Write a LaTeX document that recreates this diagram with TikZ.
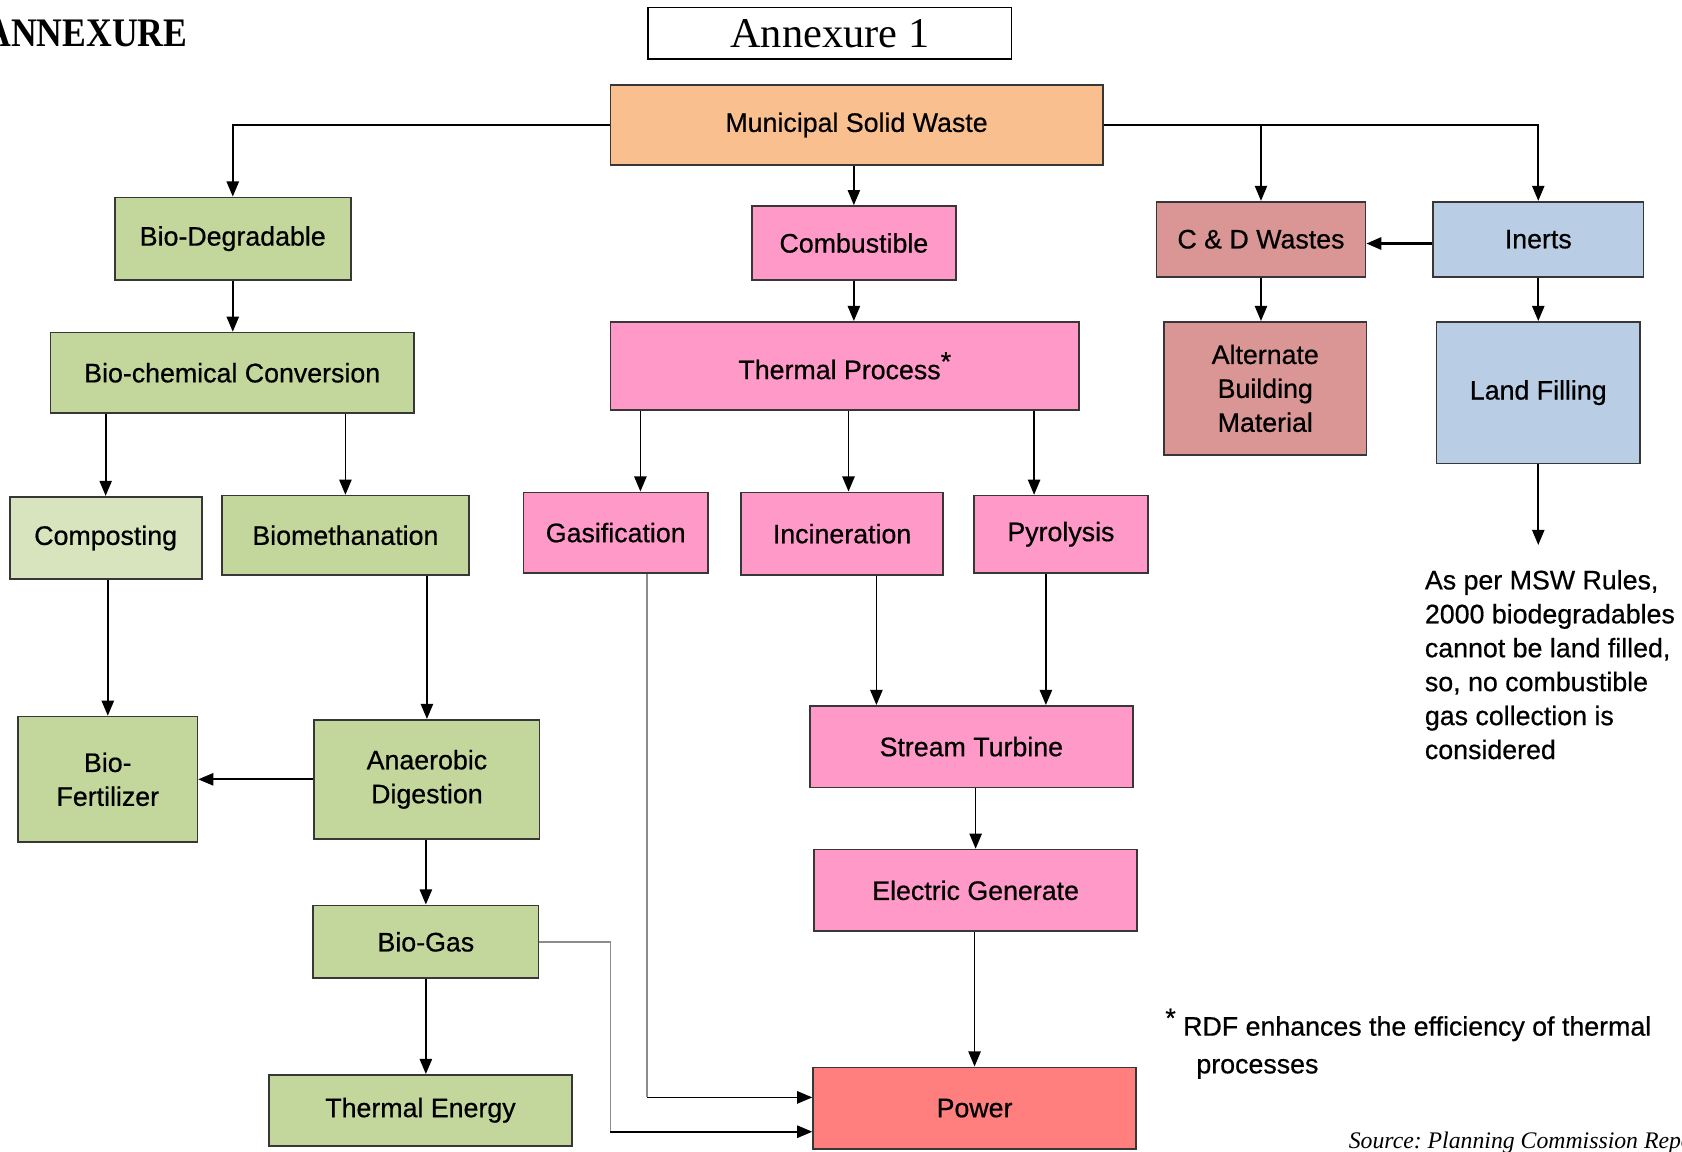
\documentclass[tikz,border=0pt]{standalone}
\usepackage{fontspec}
\setmainfont{Liberation Serif}
\setsansfont{Liberation Sans}
\newfontfamily\sansboite[FakeBold=0.6]{Liberation Sans}
\usepackage{tikz}
\usetikzlibrary{arrows.meta}
\usepackage{xcolor}
\definecolor{peche}{RGB}{250,191,143}
\definecolor{vertbio}{RGB}{195,214,155}
\definecolor{vertclair}{RGB}{215,228,189}
\definecolor{rosethermo}{RGB}{255,153,200}
\definecolor{briquecd}{RGB}{217,150,148}
\definecolor{bleuinerte}{RGB}{185,205,229}
\definecolor{rougepower}{RGB}{255,127,127}
\definecolor{bordure}{RGB}{55,55,55}
\definecolor{grisfil}{RGB}{140,140,140}

\begin{document}
\begin{tikzpicture}[
    x=0.02cm, y=-0.02cm,
    boite/.style={rectangle, draw=bordure, line width=0.9pt, align=center,
                  font=\sansboite\fontsize{14.2}{18}\selectfont, inner sep=2pt},
    fleche/.style={-{Triangle[length=8pt, width=6.5pt]}, line width=0.9pt},
    fil/.style={grisfil, line width=0.9pt},
    texte/.style={font=\sansboite\fontsize{14.2}{18}\selectfont, inner sep=0pt}
  ]
    \useasboundingbox (0,0) rectangle (1568,1073);
    \clip (0,0) rectangle (1568,1073);

    % Titres
    \node[font=\bfseries\fontsize{21.5}{24}\selectfont, anchor=east, inner sep=0pt]
      (annexe) at (175,31) {\scalebox{0.88}[1]{ANNEXURE}};
    \node[draw, line width=1pt, minimum width=6.78cm, minimum height=0.96cm,
          font=\fontsize{22.5}{26}\selectfont] (titre) at (773.5,31) {Annexure 1};

    % Noeuds
    \node[boite, fill=peche, minimum width=9.18cm, minimum height=1.5cm]
      (msw) at (798.5,116.5) {Municipal Solid Waste};
    \node[boite, fill=vertbio, minimum width=4.4cm, minimum height=1.54cm]
      (biodeg) at (217,222.5) {Bio-Degradable};
    \node[boite, fill=rosethermo, minimum width=3.8cm, minimum height=1.38cm]
      (comb) at (796,226.5) {Combustible};
    \node[boite, fill=briquecd, minimum width=3.9cm, minimum height=1.4cm]
      (cd) at (1175.5,223) {C \& D Wastes};
    \node[boite, fill=bleuinerte, minimum width=3.92cm, minimum height=1.4cm]
      (inerts) at (1434,223) {Inerts};
    \node[boite, fill=vertbio, minimum width=6.78cm, minimum height=1.5cm]
      (biochem) at (216.5,347.5) {Bio-chemical Conversion};
    \node[boite, fill=rosethermo, minimum width=8.74cm, minimum height=1.64cm]
      (thermproc) at (787.5,341) {Thermal Process\raisebox{0.6ex}{*}};
    \node[boite, fill=briquecd, minimum width=3.78cm, minimum height=2.48cm]
      (altbuild) at (1179.5,362) {Alternate\\Building\\Material};
    \node[boite, fill=bleuinerte, minimum width=3.8cm, minimum height=2.64cm]
      (landfill) at (1434,366) {Land Filling};
    \node[boite, fill=vertclair, minimum width=3.58cm, minimum height=1.54cm]
      (compost) at (98.5,501.5) {Composting};
    \node[boite, fill=vertbio, minimum width=4.6cm, minimum height=1.48cm]
      (biometh) at (322,499) {Biomethanation};
    \node[boite, fill=rosethermo, minimum width=3.44cm, minimum height=1.5cm]
      (gasif) at (574,496.5) {Gasification};
    \node[boite, fill=rosethermo, minimum width=3.76cm, minimum height=1.54cm]
      (incin) at (785,497.5) {Incineration};
    \node[boite, fill=rosethermo, minimum width=3.24cm, minimum height=1.44cm]
      (pyro) at (989,498) {Pyrolysis};
    \node[boite, fill=vertbio, minimum width=3.34cm, minimum height=2.34cm]
      (biofert) at (100.5,726.5) {Bio-\\Fertilizer};
    \node[boite, fill=vertbio, minimum width=4.2cm, minimum height=2.22cm]
      (anaer) at (398,726.5) {Anaerobic\\Digestion};
    \node[boite, fill=rosethermo, minimum width=6.02cm, minimum height=1.52cm]
      (turbine) at (905.5,696) {Stream Turbine};
    \node[boite, fill=rosethermo, minimum width=6.02cm, minimum height=1.52cm]
      (elec) at (909.5,830) {Electric Generate};
    \node[boite, fill=vertbio, minimum width=4.2cm, minimum height=1.36cm]
      (biogas) at (397,878) {Bio-Gas};
    \node[boite, fill=vertbio, minimum width=5.64cm, minimum height=1.32cm]
      (thermen) at (392,1035) {Thermal Energy};
    \node[boite, fill=rougepower, minimum width=6.02cm, minimum height=1.52cm]
      (power) at (908.5,1033) {Power};

    % Notes
    \node[texte, align=left, anchor=north west] (note) at (1328,531)
      {As per MSW Rules,\\2000 biodegradables\\cannot be land filled,\\so, no combustible\\gas collection is\\considered};
    \node[texte, font=\sansboite\fontsize{14.2}{20}\selectfont, align=left,
          anchor=north west] (rdf) at (1086,940)
      {\raisebox{0.6ex}{*}\ RDF enhances the efficiency of thermal\\\hspace*{0.58cm}processes};
    \node[font=\itshape\fontsize{12.6}{14}\selectfont, anchor=base west, inner sep=0pt]
      (source) at (1257,1071) {Source:\ Planning Commission Report};

    % Branches du haut
    \draw[fleche] (msw.west) -| (biodeg.north);
    \draw[fleche] (comb.north |- msw.south) -- (comb.north);
    \draw[fleche] (msw.east) -| (inerts.north);
    \draw[fleche] (msw.east -| cd.north) -- (cd.north);
    \draw[fleche, line width=1.4pt] ([yshift=-0.08cm]inerts.west) -- ([yshift=-0.08cm]cd.east);
    \draw[fleche] (biodeg.south) -- (biodeg.south |- biochem.north);
    \draw[fleche] (comb.south) -- (comb.south |- thermproc.north);
    \draw[fleche] (cd.south) -- (cd.south |- altbuild.north);
    \draw[fleche] (inerts.south) -- (inerts.south |- landfill.north);
    \draw[fleche] (landfill.south) -- ([yshift=0.46cm]landfill.south |- note.north);

    % Filiere biologique
    \draw[fleche] (compost.north |- biochem.south) -- (compost.north);
    \draw[fleche] (biometh.north |- biochem.south) -- (biometh.north);
    \draw[fleche] (biofert.north |- compost.south) -- (biofert.north);
    \draw[fleche] (anaer.north |- biometh.south) -- (anaer.north);
    \draw[fleche] (anaer.west) -- (biofert.east);
    \draw[fleche] (biogas.north |- anaer.south) -- (biogas.north);
    \draw[fleche] (biogas.south) -- (biogas.south |- thermen.north);

    % Filiere thermique
    \coordinate (g) at ([xshift=0.46cm]gasif.north);
    \coordinate (i) at ([xshift=0.12cm]incin.north);
    \coordinate (p) at ([xshift=-0.5cm]pyro.north);
    \draw[fleche] (g |- thermproc.south) -- (g);
    \draw[fleche] (i |- thermproc.south) -- (i);
    \draw[fleche] (p |- thermproc.south) -- (p);
    \coordinate (i2) at ([xshift=0.64cm]incin.south);
    \coordinate (p2) at ([xshift=-0.28cm]pyro.south);
    \draw[fleche] (i2) -- (i2 |- turbine.north);
    \draw[fleche] (p2) -- (p2 |- turbine.north);
    \draw[fleche] (elec.north |- turbine.south) -- (elec.north);
    \draw[fleche] (power.north |- elec.south) -- (power.north);

    % Vers Power
    \coordinate (coudeA) at (569,1055);
    \coordinate (coudeB) at (603,1023);
    \draw[fil] (biogas.east) -| (coudeA);
    \draw[fleche] (coudeA) -- (coudeA -| power.west);
    \draw[fil] (gasif.south -| coudeB) -- (coudeB);
    \draw[fleche] (coudeB) -- (coudeB -| power.west);
\end{tikzpicture}
\end{document}
